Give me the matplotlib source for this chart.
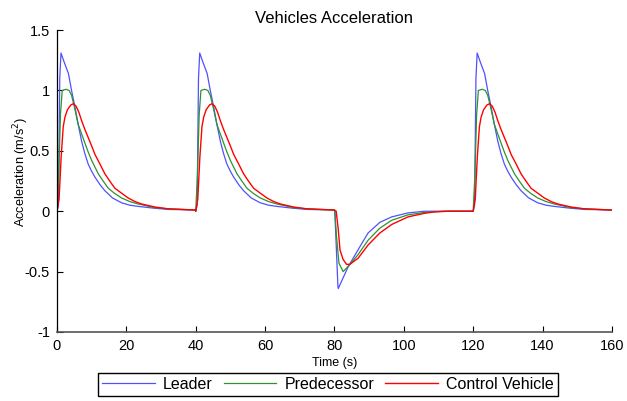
import numpy as np
import matplotlib
matplotlib.use("Agg")
import matplotlib.pyplot as plt

plt.rcParams['font.family'] = ['Liberation Sans', 'DejaVu Sans']

# acceleration pulse (time relative to pulse start, s)
leader_pulse_t = [0, 0.4, 0.8, 1.15, 2.0, 3.3, 4.2, 5.2, 6.1, 7.1, 8.0, 9.0, 10.0, 11.0,
                  12.4, 13.8, 16.0, 18.6, 21.0, 23.4, 28.0, 32.0, 39.9]
leader_pulse_a = [0, 0.05, 1.1, 1.31, 1.24, 1.14, 1.0, 0.86, 0.72, 0.58, 0.48, 0.39, 0.33, 0.28,
                  0.22, 0.17, 0.11, 0.07, 0.05, 0.04, 0.025, 0.015, 0.01]

pred_pulse_t = [0, 0.5, 1.0, 1.5, 2.6, 3.5, 4.2, 5.2, 6.1, 7.1, 8.1, 9.0, 10.0, 11.9,
                13.3, 14.8, 16.5, 18.6, 21.0, 23.4, 28.2, 32.0, 39.9]
pred_pulse_a = [0, 0.3, 0.8, 1.0, 1.01, 1.0, 0.96, 0.84, 0.72, 0.64, 0.56, 0.49, 0.42, 0.31,
                0.25, 0.19, 0.15, 0.11, 0.08, 0.06, 0.03, 0.02, 0.01]

ctrl_pulse_t = [0, 0.6, 1.2, 1.8, 2.3, 3.0, 4.0, 4.7, 5.5, 6.3, 7.1, 8.0, 9.0, 10.0, 10.95,
                12.4, 13.8, 15.2, 16.7, 18.6, 20.5, 22.5, 24.4, 28.2, 32.0, 39.9]
ctrl_pulse_a = [0, 0.1, 0.45, 0.7, 0.78, 0.84, 0.88, 0.89, 0.87, 0.82, 0.75, 0.68, 0.61, 0.54, 0.47,
                0.39, 0.31, 0.25, 0.19, 0.15, 0.11, 0.08, 0.06, 0.035, 0.02, 0.01]

# braking phase starting at t = 80 s
leader_dip_t = [0, 0.1, 1.0, 1.1, 3.95, 6.8, 9.7, 13.1, 16.5, 21.2, 26.0, 32.0, 39.9]
leader_dip_a = [0.01, 0.0, -0.62, -0.64, -0.46, -0.32, -0.18, -0.092, -0.047, -0.014, 0.0, 0.0, 0.0]

pred_dip_t = [0, 0.1, 0.6, 1.3, 2.5, 4.2, 6.8, 9.7, 13.1, 16.5, 21.2, 26.0, 32.0, 39.9]
pred_dip_a = [0.01, 0.005, -0.21, -0.43, -0.50, -0.45, -0.36, -0.24, -0.14, -0.075, -0.03, -0.01, 0.0, 0.0]

ctrl_dip_t = [0, 0.5, 1.1, 1.6, 2.5, 3.5, 4.4, 6.8, 9.7, 13.1, 16.5, 21.2, 26.0, 28.9, 33.0, 39.9]
ctrl_dip_a = [0.01, 0.0, -0.15, -0.32, -0.40, -0.44, -0.44, -0.39, -0.28, -0.18, -0.11, -0.047,
              -0.017, -0.005, 0.0, 0.0]

pulse_starts = [0, 40, 120]
dip_start = 80


def build(pt, pa, dt, da):
    segs = [(np.asarray(pt) + pulse_starts[0], pa),
            (np.asarray(pt) + pulse_starts[1], pa),
            (np.asarray(dt) + dip_start, da),
            (np.asarray(pt) + pulse_starts[2], pa)]
    t = np.concatenate([s[0] for s in segs])
    a = np.concatenate([np.asarray(s[1], float) for s in segs])
    return t, a


t_lead, a_lead = build(leader_pulse_t, leader_pulse_a, leader_dip_t, leader_dip_a)
t_pred, a_pred = build(pred_pulse_t, pred_pulse_a, pred_dip_t, pred_dip_a)
t_ctrl, a_ctrl = build(ctrl_pulse_t, ctrl_pulse_a, ctrl_dip_t, ctrl_dip_a)

fig = plt.figure(figsize=(6.27, 4.01), dpi=100)
ax = fig.add_axes([0.0909, 0.1721, 0.885, 0.7529])

ax.plot(t_lead, a_lead, color='#5050ff', lw=0.9, label='Leader')
ax.plot(t_pred, a_pred, color='#2e922e', lw=0.9, label='Predecessor')
ax.plot(t_ctrl, a_ctrl, color='#ff0000', lw=1.0, label='Control Vehicle')

ax.set_xlim(0, 160)
ax.set_ylim(-1, 1.5)
ax.set_xticks(np.arange(0, 161, 20))
ax.set_yticks([-1, -0.5, 0, 0.5, 1, 1.5])
ax.set_yticklabels(['-1', '-0.5', '0', '0.5', '1', '1.5'])
ax.tick_params(direction='in', length=4, width=0.8, labelsize=10.5)
ax.tick_params(axis='y', pad=5)
ax.tick_params(axis='x', pad=5)
for side in ('top', 'right'):
    ax.spines[side].set_visible(False)
ax.spines['left'].set_linewidth(0.9)
ax.spines['bottom'].set_linewidth(1.2)
ax.spines['bottom'].set_color('#555555')

ax.set_title('Vehicles Acceleration', fontsize=12, pad=5)
ax.set_xlabel('Time (s)', fontsize=9)
ax.xaxis.set_label_coords(0.5, -0.082)
ax.set_ylabel('Acceleration (m/s$^2$)', fontsize=9.2)
ax.yaxis.set_label_coords(-0.046, 0.53)

leg = fig.legend(loc='center', bbox_to_anchor=(0.523, 0.041), ncol=3, fontsize=11.5,
                 handlelength=3.3, fancybox=False, edgecolor='black', framealpha=1,
                 borderpad=0.25, columnspacing=0.7, handletextpad=0.5)
leg.get_frame().set_linewidth(1.0)

fig.savefig('out.png', dpi=100)
